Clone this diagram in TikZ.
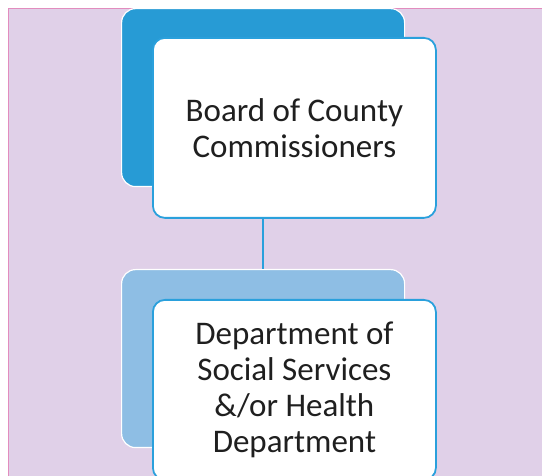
\documentclass[tikz,border=0pt]{standalone}
\usepackage{fontspec}
\setmainfont{Carlito}
\usepackage{xcolor}
\usepackage{tikz}

\definecolor{Lavender}{RGB}{224,208,232}
\definecolor{PinkEdge}{RGB}{226,140,190}
\definecolor{DarkSky}{RGB}{39,155,213}
\definecolor{PaleSky}{RGB}{142,190,228}
\definecolor{FrameBlue}{RGB}{42,160,220}

\tikzset{
  backbox/.style={rectangle, rounded corners=14pt, draw=white, line width=1.2pt,
    minimum width=283pt, minimum height=178pt, anchor=north west, inner sep=0pt},
  frontbox/.style={rectangle, rounded corners=12pt, draw=FrameBlue, fill=white,
    line width=1.8pt, minimum width=283pt, minimum height=180pt, anchor=north west,
    align=center, text=black!88, font=\fontsize{33}{36}\selectfont},
}

\begin{document}
\begin{tikzpicture}[x=1pt, y=-1pt]
  \useasboundingbox (0, 0) rectangle (542, 476);

  % Paper
  \fill [white] (0, 0) rectangle (542, 476);
  \fill [Lavender] (8.5, 8.5) rectangle (542, 476);
  \draw [PinkEdge, line width=0.8pt] (8.5, 476) -- (8.5, 8.5) -- (542, 8.5);

  % Board of County Commissioners
  \node [backbox, fill=DarkSky] (boardback) at (121, 8) {};
  \node [frontbox] (boardfront) at (152, 37) {Board of County\\Commissioners};

  % Department of Social Services
  \node [backbox, fill=PaleSky] (deptback) at (121, 269) {};

  % Link between the two levels
  \draw [FrameBlue, line width=2pt] (boardfront.south -| boardback.south) -- (deptback.north);

  \node [frontbox] (deptfront) at (152, 299)
    {Department of\\Social Services\\\&/or Health\\Department};
\end{tikzpicture}
\end{document}
